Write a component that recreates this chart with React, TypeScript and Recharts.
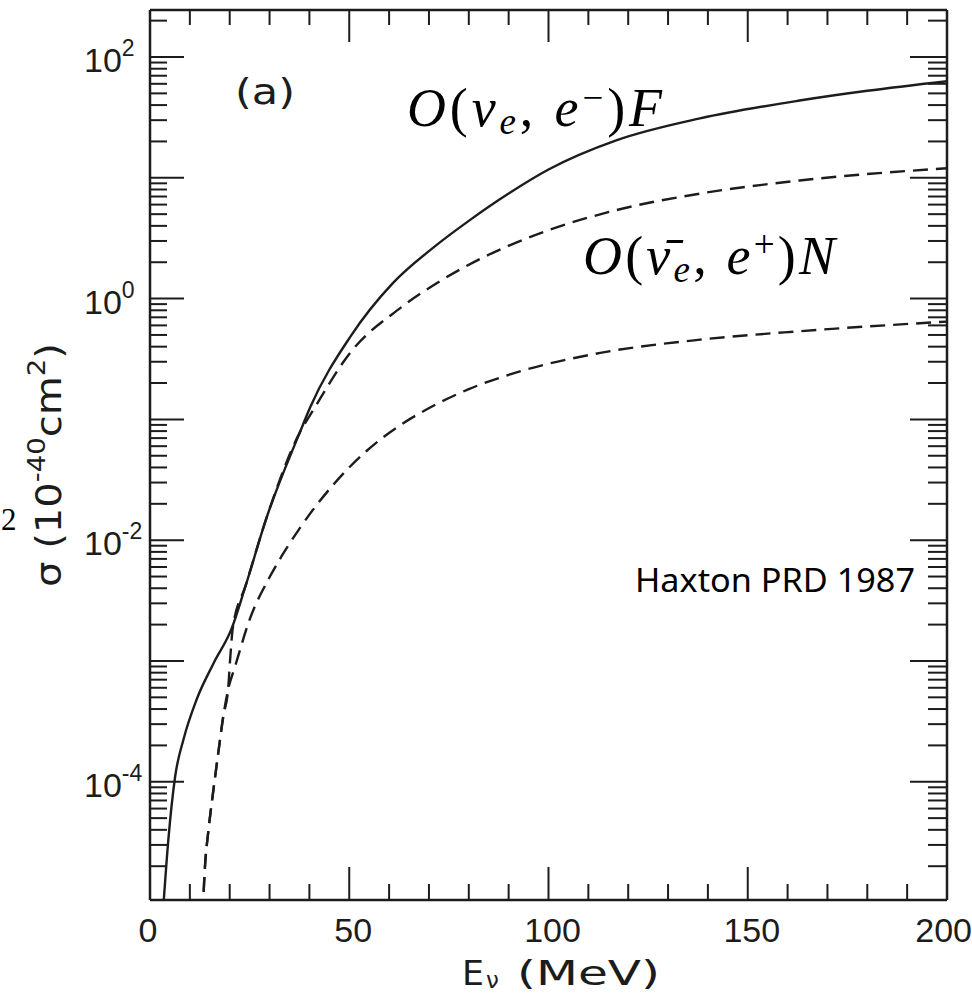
import React from 'react';
import { LineChart, Line, XAxis, YAxis, ReferenceLine } from 'recharts';

// ---- data ----
const energyF = [3.2, 4.6, 6.3, 8.4, 11.7, 15.9, 20.5, 24, 29.3, 37.6, 40.2, 50.2, 61, 71, 80, 90, 100, 117, 138, 163, 180, 200];
const sigmaF = [7.9e-6, 3.3e-5, 1.1e-4, 2.24e-4, 4.8e-4, 9.5e-4, 1.86e-3, 4.2e-3, 0.0155, 0.078, 0.126, 0.48, 1.35, 2.63, 4.4, 7.4, 11.7, 20.4, 31.0, 43.6, 52.5, 63];

const energyNUpper = [13.2, 13.8, 14.6, 15.9, 17.2, 18.4, 19.6, 20.1, 20.8, 24, 29.3, 37.6, 41, 50.2, 62.7, 73, 83.6, 100.4, 117, 138, 163, 200];
const sigmaNUpper = [7.9e-6, 2.0e-5, 3.8e-5, 8.5e-5, 1.8e-4, 3.5e-4, 5.8e-4, 1.02e-3, 1.9e-3, 4.2e-3, 0.0155, 0.078, 0.12, 0.355, 0.83, 1.41, 2.19, 3.72, 5.4, 7.4, 9.5, 12.0];

const energyNLower = [13.2, 13.8, 14.6, 15.9, 17.2, 18.4, 19.6, 21.3, 25, 30.1, 34.4, 37.6, 46, 54.4, 62.7, 71, 80, 92, 113, 138, 163, 200];
const sigmaNLower = [7.9e-6, 2.0e-5, 3.8e-5, 8.5e-5, 1.8e-4, 3.5e-4, 5.8e-4, 8.9e-4, 2.2e-3, 5.0e-3, 8.7e-3, 0.0126, 0.0288, 0.055, 0.089, 0.129, 0.178, 0.245, 0.355, 0.457, 0.537, 0.645];

const xTicks = [0, 10, 20, 30, 40, 50, 60, 70, 80, 90, 100, 110, 120, 130, 140, 150, 160, 170, 180, 190, 200];
const xMajorTicks = [0, 50, 100, 150, 200];
const decades = [-5, -4, -3, -2, -1, 0, 1, 2];
const labelledExponents = [-4, -2, 0, 2];
const mantissas = [1, 2, 3, 4, 5, 6, 7, 8, 9];

const Y_MIN = 1.05e-5;
const Y_MAX = 245;
const X_DOMAIN: [number, number] = [0, 200];
const Y_DOMAIN: [number, number] = [Y_MIN, Y_MAX];

const isDecade = (v: number) => {
  const lg = Math.log10(v);
  return Math.abs(lg - Math.round(lg)) < 1e-6;
};

const yTicks = decades
  .flatMap((d) => mantissas.map((m) => m * Math.pow(10, d)))
  .filter((v) => v >= Y_MIN && v <= Y_MAX);
const yLabelTicks = labelledExponents.map((e) => Math.pow(10, e));

const toRows = (es: number[], ss: number[]) => es.map((e, i) => ({ E: e, s: ss[i] }));
const dataF = toRows(energyF, sigmaF);
const dataNUpper = toRows(energyNUpper, sigmaNUpper);
const dataNLower = toRows(energyNLower, sigmaNLower);

const INK = '#1c1c1c';
const TICK_FONT = 'Liberation Sans, DejaVu Sans, sans-serif';
const TITLE_FONT = 'DejaVu Sans, Liberation Sans, sans-serif';
const SERIF = 'Liberation Serif, DejaVu Serif, serif';

// chart geometry
const W = 972;
const H = 996;
const MARGIN = { top: 10, right: 25, bottom: 95, left: 149 };
const PLOT_W = W - MARGIN.left - 1 - MARGIN.right;
const PLOT_H = H - MARGIN.top - MARGIN.bottom - 1;
const PX_PER_X = PLOT_W / (X_DOMAIN[1] - X_DOMAIN[0]);
const PX_PER_DECADE = PLOT_H / Math.log10(Y_MAX / Y_MIN);

// tick mark lengths (pixels), turned into data extents for inward tick segments
const xLenData = (px: number) => px / PX_PER_X;
const yFactor = (px: number) => Math.pow(10, px / PX_PER_DECADE);

const expLabel = (v: number) => {
  const e = Math.round(Math.log10(v));
  return e < 0 ? '-' + String(-e) : String(e);
};

const YLabelTick = (props: any) => {
  const { x, y, payload } = props;
  return (
    <text x={x - 66} y={y + 15} fontFamily={TICK_FONT} fontSize={34} fill={INK}>
      <tspan>10</tspan>
      <tspan dy={-16} fontSize={23}>{expLabel(payload.value)}</tspan>
    </text>
  );
};

const XLabelTick = (props: any) => {
  const { x, y, payload } = props;
  const v = payload.value;
  const last = v === X_DOMAIN[1];
  return (
    <text
      x={last ? x + 25 : x + (v === 0 ? -2 : 4)}
      y={y + 42}
      textAnchor={last ? 'end' : 'middle'}
      fontFamily={TICK_FONT}
      fontSize={34}
      fill={INK}
    >
      {v}
    </text>
  );
};

const FRAME = { stroke: INK, strokeWidth: 2.5 };

const tickSeg = (key: string, a: { x: number; y: number }, b: { x: number; y: number }) => (
  <ReferenceLine
    key={key}
    xAxisId="x"
    yAxisId="y"
    segment={[a, b]}
    stroke={INK}
    strokeWidth={2}
    ifOverflow="visible"
  />
);

const tickMarks = [
  ...yTicks.map((v) => {
    const major = isDecade(v);
    return tickSeg('L' + v, { x: X_DOMAIN[0], y: v }, { x: X_DOMAIN[0] + xLenData(major ? 34 : 17), y: v });
  }),
  ...yTicks.map((v) => {
    const major = isDecade(v);
    return tickSeg('R' + v, { x: X_DOMAIN[1], y: v }, { x: X_DOMAIN[1] - xLenData(major ? 37 : 19), y: v });
  }),
  ...xTicks.map((v) => {
    const major = xMajorTicks.includes(v);
    return tickSeg('B' + v, { x: v, y: Y_MIN }, { x: v, y: Y_MIN * yFactor(major ? 33 : 16) });
  }),
  ...xTicks.map((v) => {
    const major = xMajorTicks.includes(v);
    return tickSeg('T' + v, { x: v, y: Y_MAX }, { x: v, y: Y_MAX / yFactor(major ? 32 : 15) });
  }),
];

export default function App() {
  return (
    <div style={{ position: 'absolute', left: 0, top: 0, width: W, height: H, background: '#fff' }}>
      <LineChart width={W} height={H} margin={MARGIN} style={{ position: 'absolute', left: 0, top: 0 }}>
        <XAxis
          xAxisId="x"
          dataKey="E"
          type="number"
          domain={X_DOMAIN}
          allowDataOverflow
          ticks={xMajorTicks}
          interval={0}
          height={1}
          tickSize={0}
          tickMargin={0}
          tickLine={false}
          tick={<XLabelTick />}
          axisLine={FRAME}
        />
        <YAxis
          yAxisId="y"
          scale="log"
          type="number"
          domain={Y_DOMAIN}
          allowDataOverflow
          ticks={yLabelTicks}
          interval={0}
          width={1}
          tickSize={0}
          tickMargin={0}
          tickLine={false}
          tick={<YLabelTick />}
          axisLine={FRAME}
        />
        <ReferenceLine xAxisId="x" yAxisId="y" y={Y_MAX} stroke={INK} strokeWidth={2.5} ifOverflow="visible" />
        <ReferenceLine xAxisId="x" yAxisId="y" x={X_DOMAIN[1]} stroke={INK} strokeWidth={2.5} ifOverflow="visible" />
        {tickMarks}
        <Line
          xAxisId="x"
          yAxisId="y"
          data={dataF}
          dataKey="s"
          type="monotone"
          stroke={INK}
          strokeWidth={2.4}
          dot={false}
          activeDot={false}
          isAnimationActive={false}
        />
        <Line
          xAxisId="x"
          yAxisId="y"
          data={dataNUpper}
          dataKey="s"
          type="monotone"
          stroke={INK}
          strokeWidth={2.4}
          strokeDasharray="15 8"
          dot={false}
          activeDot={false}
          isAnimationActive={false}
        />
        <Line
          xAxisId="x"
          yAxisId="y"
          data={dataNLower}
          dataKey="s"
          type="monotone"
          stroke={INK}
          strokeWidth={2.4}
          strokeDasharray="15 8"
          dot={false}
          activeDot={false}
          isAnimationActive={false}
        />
      </LineChart>
      <svg width={W} height={H} style={{ position: 'absolute', left: 0, top: 0, pointerEvents: 'none' }}>
        {/* panel tag */}
        <text x={235} y={104} fontFamily={TITLE_FONT} fontSize={35} fill={INK} textLength={60} lengthAdjust="spacingAndGlyphs">
          (a)
        </text>
        {/* y axis title */}
        <text
          x={61}
          y={587}
          transform="rotate(-90 61 587)"
          fontFamily={TITLE_FONT}
          fontSize={35}
          fill={INK}
          textLength={244}
          lengthAdjust="spacingAndGlyphs"
        >
          <tspan>σ (10</tspan>
          <tspan dy={-16} fontSize={24}>-40</tspan>
          <tspan dy={16}>cm</tspan>
          <tspan dy={-16} fontSize={24}>2</tspan>
          <tspan dy={16}>)</tspan>
        </text>
        {/* x axis title */}
        <text x={462} y={985} fontFamily={TITLE_FONT} fontSize={33} fill={INK} textLength={22} lengthAdjust="spacingAndGlyphs">
          E
        </text>
        <text x={486} y={988} fontFamily={TITLE_FONT} fontSize={23} fill={INK}>
          ν
        </text>
        <text x={517} y={985} fontFamily={TITLE_FONT} fontSize={33} fill={INK} textLength={143} lengthAdjust="spacingAndGlyphs">
          (MeV)
        </text>
        {/* curve labels */}
        <text x={407} y={126} fontFamily={SERIF} fontSize={54} fill="#000" textLength={255} lengthAdjust="spacing">
          <tspan fontStyle="italic">O</tspan>
          <tspan>(</tspan>
          <tspan fontStyle="italic">ν</tspan>
          <tspan fontStyle="italic" fontSize={37} dy={8}>e</tspan>
          <tspan dy={-8}>, </tspan>
          <tspan fontStyle="italic">e</tspan>
          <tspan fontSize={37} dy={-16}>−</tspan>
          <tspan dy={16}>)</tspan>
          <tspan fontStyle="italic">F</tspan>
        </text>
        <text x={583} y={274} fontFamily={SERIF} fontSize={54} fill="#000" textLength={252} lengthAdjust="spacing">
          <tspan fontStyle="italic">O</tspan>
          <tspan>(</tspan>
          <tspan fontStyle="italic">ν̄</tspan>
          <tspan fontStyle="italic" fontSize={37} dy={8}>e</tspan>
          <tspan dy={-8}>, </tspan>
          <tspan fontStyle="italic">e</tspan>
          <tspan fontSize={37} dy={-17}>+</tspan>
          <tspan dy={17}>)</tspan>
          <tspan fontStyle="italic">N</tspan>
        </text>
        <text x={635} y={592} fontFamily="Noto Sans, DejaVu Sans, sans-serif" fontSize={33} fill="#000" textLength={280} lengthAdjust="spacingAndGlyphs">
          Haxton PRD 1987
        </text>
        {/* fragment at the left edge */}
        <text x={1} y={530} fontFamily={SERIF} fontSize={31} fill="#000">
          2
        </text>
      </svg>
    </div>
  );
}
